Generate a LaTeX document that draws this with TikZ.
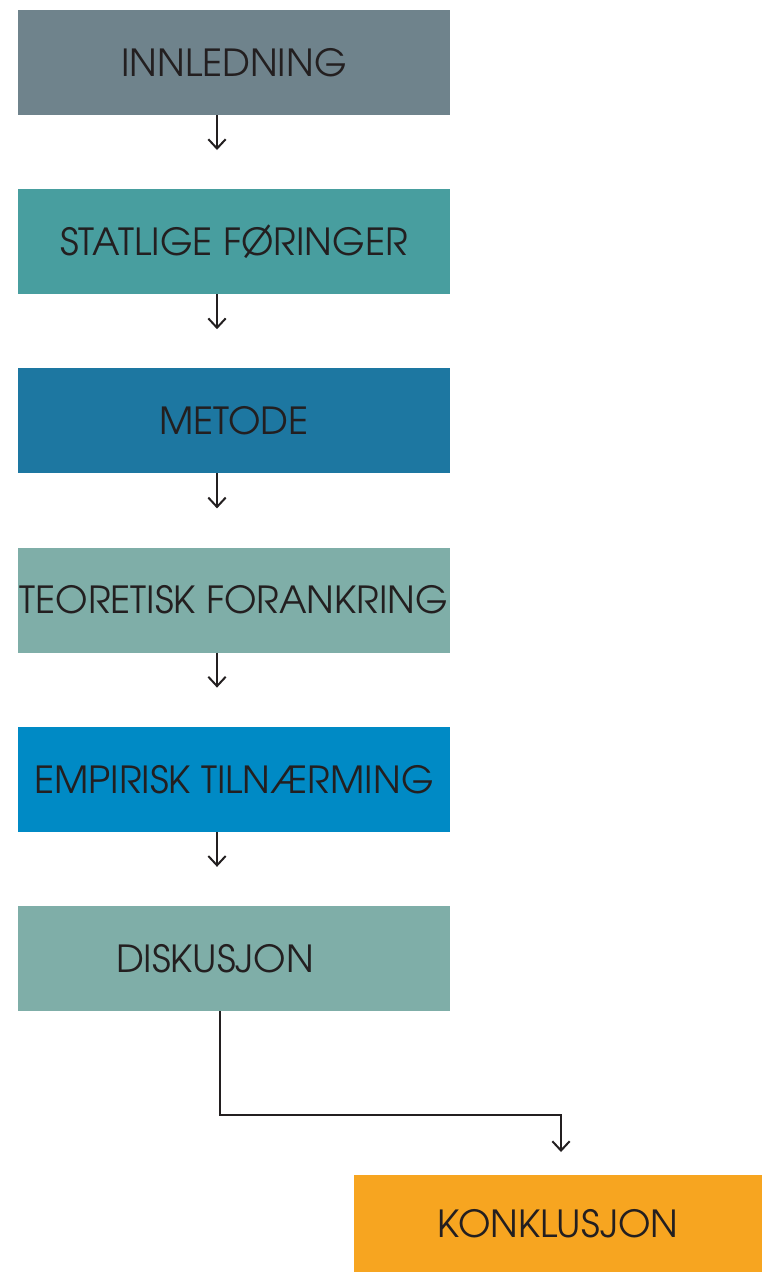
\documentclass[tikz,border=0pt]{standalone}
\usepackage{fontspec}
\setmainfont{TeX Gyre Adventor}
\usepackage{tikz}
\usetikzlibrary{positioning}
\usetikzlibrary{arrows.meta}
\definecolor{cInn}{HTML}{6F838C}
\definecolor{cStat}{HTML}{489E9F}
\definecolor{cMet}{HTML}{1D77A1}
\definecolor{cTeo}{HTML}{7FAEA8}
\definecolor{cEmp}{HTML}{008AC5}
\definecolor{cDis}{HTML}{7FAEA8}
\definecolor{cKon}{HTML}{F7A520}
\definecolor{ink}{HTML}{231F20}
\tikzset{
  box/.style={minimum width=324pt, minimum height=78.75pt, inner sep=0pt, outer sep=0pt,
    text=ink, font=\fontsize{28}{32}\selectfont},
  arr/.style={draw=ink, line width=1.5pt, -{Straight Barb[length=7pt, width=13pt, line width=1.5pt]}}
}

\begin{document}
\begin{tikzpicture}[x=0.75pt, y=-0.75pt]
    \useasboundingbox (0,0) rectangle (762,1272);
    \coordinate (ax) at (217,0);
    \node[box, fill=cInn] (inn) at (234,62.5) {INNLEDNING};
    \node[box, fill=cStat, below=55.65pt of inn] (stat) {STATLIGE FØRINGER};
    \node[box, fill=cMet, below=55.65pt of stat] (met) {METODE};
    \node[box, fill=cTeo, below=55.65pt of met] (teo) {TEORETISK FORANKRING};
    \node[box, fill=cEmp, below=55.65pt of teo] (emp) {EMPIRISK TILNÆRMING};
    \node[box, fill=cDis, below=55.65pt of emp] (dis) {DISKUSJON\kern28.5pt};
    \node[box, fill=cKon, minimum width=306pt, minimum height=72.75pt] (kon) at (558,1223.5) {KONKLUSJON};
    \draw[arr] (inn.south -| ax) -- ++(0,35);
    \draw[arr] (stat.south -| ax) -- ++(0,35);
    \draw[arr] (met.south -| ax) -- ++(0,35);
    \draw[arr] (teo.south -| ax) -- ++(0,35);
    \draw[arr] (emp.south -| ax) -- ++(0,35);
    \draw[arr] ([xshift=2.25pt]dis.south -| ax) |- ++(341,104) -- ++(0,37);
\end{tikzpicture}
\end{document}
